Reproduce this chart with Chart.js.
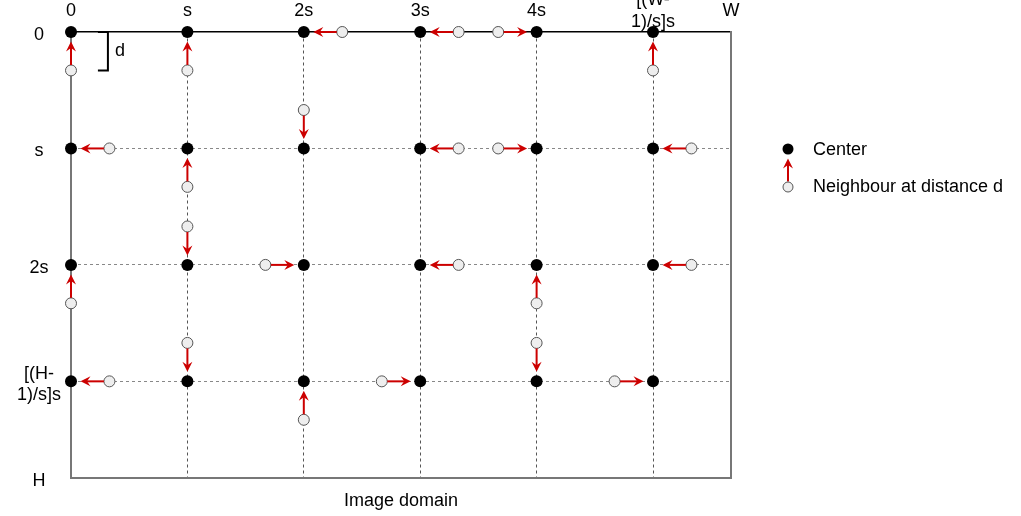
<!DOCTYPE html>
<html>
<head>
<meta charset="utf-8">
<script src="https://cdn.jsdelivr.net/npm/chart.js@4"></script>
<style>
  body { margin: 0; background: #fff; }
  #wrap { width: 1021px; height: 516px; }
</style>
</head>
<body>
<div id="wrap"><canvas id="grid"></canvas></div>
<script>
// grid in units of the step s, rows go down
const xMax = 5.67;   // W
const yMax = 3.83;   // H
const dist = 0.33;   // d

const xTickVals = [0, 1, 2, 3, 4, 5, 5.67];
const xTickLabels = ['0', 's', '2s', '3s', '4s', ['[(W-', '1)/s]s'], 'W'];
const yTickVals = [0, 1, 2, 3, 3.83];
const yTickLabels = ['0', 's', '2s', ['[(H-', '1)/s]s'], 'H'];

// centers, one per grid node
const centerX = [0, 1, 2, 3, 4, 5, 0, 1, 2, 3, 4, 5, 0, 1, 2, 3, 4, 5, 0, 1, 2, 3, 4, 5];
const centerY = [0, 0, 0, 0, 0, 0, 1, 1, 1, 1, 1, 1, 2, 2, 2, 2, 2, 2, 3, 3, 3, 3, 3, 3];

// the neighbour that belongs to each center (same order)
const neighbourX = [0, 1, 2.33, 3.33, 3.67, 5, 0.33, 1, 2, 3.33, 3.67, 5.33, 0, 1, 1.67, 3.33, 4, 5.33, 0.33, 1, 2, 2.67, 4, 4.67];
const neighbourY = [0.33, 0.33, 0, 0, 0, 0.33, 1, 1.33, 0.67, 1, 1, 1, 2.33, 1.67, 2, 2, 2.33, 2, 3, 2.67, 3.33, 3, 2.67, 3];

const FONT = 'Liberation Sans, Arial, Helvetica, sans-serif';
const FS = 18;
const RED = '#cc0000';

function arrow(ctx, x1, y1, x2, y2) {
  const dx = x2 - x1, dy = y2 - y1;
  const len = Math.hypot(dx, dy);
  const ux = dx / len, uy = dy / len;
  const sx = x1 + ux * 5.5, sy = y1 + uy * 5.5;
  const tx = x2 - ux * 9.5, ty = y2 - uy * 9.5;
  ctx.save();
  ctx.strokeStyle = RED;
  ctx.fillStyle = RED;
  ctx.lineWidth = 2;
  ctx.beginPath();
  ctx.moveTo(sx, sy);
  ctx.lineTo(tx - ux * 5, ty - uy * 5);
  ctx.stroke();
  // head
  ctx.beginPath();
  ctx.moveTo(tx, ty);
  ctx.lineTo(tx - ux * 10 - uy * 5, ty - uy * 10 + ux * 5);
  ctx.lineTo(tx - ux * 6.5, ty - uy * 6.5);
  ctx.lineTo(tx - ux * 10 + uy * 5, ty - uy * 10 - ux * 5);
  ctx.closePath();
  ctx.fill();
  ctx.restore();
}

const extras = {
  id: 'extras',
  afterDatasetsDraw(chart) {
    const ctx = chart.ctx;
    const xs = chart.scales.x, ys = chart.scales.y;
    for (let i = 0; i < centerX.length; i++) {
      arrow(ctx,
        xs.getPixelForValue(neighbourX[i]), ys.getPixelForValue(neighbourY[i]),
        xs.getPixelForValue(centerX[i]), ys.getPixelForValue(centerY[i]));
    }
    // bracket showing d
    const bx = xs.getPixelForValue(dist) - 1.5;
    const by0 = ys.getPixelForValue(0), by1 = ys.getPixelForValue(dist);
    ctx.save();
    ctx.strokeStyle = '#000';
    ctx.lineWidth = 2;
    ctx.beginPath();
    ctx.moveTo(bx - 10, by0);
    ctx.lineTo(bx, by0);
    ctx.lineTo(bx, by1);
    ctx.lineTo(bx - 10, by1);
    ctx.stroke();
    ctx.fillStyle = '#000';
    ctx.font = FS + 'px ' + FONT;
    ctx.textBaseline = 'middle';
    ctx.fillText('d', bx + 7, (by0 + by1) / 2);
    ctx.restore();
  },
  afterDraw(chart) {
    // legend
    const ctx = chart.ctx;
    const lx = chart.chartArea.right + 57;
    const ly = 149;
    ctx.save();
    ctx.fillStyle = '#000';
    ctx.beginPath();
    ctx.arc(lx, ly, 5.5, 0, Math.PI * 2);
    ctx.fill();
    arrow(ctx, lx, ly + 38, lx, ly);
    ctx.fillStyle = '#eee';
    ctx.strokeStyle = '#555';
    ctx.lineWidth = 1;
    ctx.beginPath();
    ctx.arc(lx, ly + 38, 5, 0, Math.PI * 2);
    ctx.fill();
    ctx.stroke();
    ctx.fillStyle = '#000';
    ctx.font = FS + 'px ' + FONT;
    ctx.textBaseline = 'middle';
    ctx.fillText('Center', lx + 25, ly + 1);
    ctx.fillText('Neighbour at distance d', lx + 25, ly + 38);
    ctx.restore();
  }
};

new Chart(document.getElementById('grid'), {
  type: 'scatter',
  data: {
    datasets: [
      {
        label: 'Center',
        data: centerX.map((x, i) => ({ x: x, y: centerY[i] })),
        pointRadius: 6,
        pointBackgroundColor: '#000',
        pointBorderColor: '#000',
        pointBorderWidth: 0,
        clip: false
      },
      {
        label: 'Neighbour at distance d',
        data: neighbourX.map((x, i) => ({ x: x, y: neighbourY[i] })),
        pointRadius: 5.5,
        pointBackgroundColor: '#eeeeee',
        pointBorderColor: '#555',
        pointBorderWidth: 1,
        clip: false
      }
    ]
  },
  options: {
    responsive: true,
    maintainAspectRatio: false,
    animation: false,
    layout: { padding: { left: 0, top: 0, right: 290, bottom: 0 } },
    plugins: {
      legend: { display: false },
      tooltip: { enabled: false }
    },
    scales: {
      x: {
        type: 'linear',
        position: 'top',
        min: 0,
        max: xMax,
        afterBuildTicks: s => { s.ticks = xTickVals.map(v => ({ value: v })); },
        afterFit: s => { s.height = 32; },
        ticks: {
          autoSkip: false,
          maxRotation: 0,
          crossAlign: 'center',
          padding: 10,
          color: '#000',
          font: { family: FONT, size: FS },
          callback: (v, i) => xTickLabels[i]
        },
        grid: {
          drawTicks: false,
          lineWidth: 1,
          color: c => (c.tick && c.tick.value > 0 && c.tick.value < xMax) ? '#555' : 'rgba(0,0,0,0)'
        },
        border: { color: '#000', width: 1.5, dash: [3, 3] }
      },
      y: {
        type: 'linear',
        position: 'left',
        reverse: true,
        min: 0,
        max: yMax,
        afterBuildTicks: s => { s.ticks = yTickVals.map(v => ({ value: v })); },
        afterFit: s => { s.width = 71; },
        ticks: {
          autoSkip: false,
          crossAlign: 'center',
          padding: 10,
          labelOffset: 3,
          color: '#000',
          font: { family: FONT, size: FS },
          callback: (v, i) => yTickLabels[i]
        },
        grid: {
          drawTicks: false,
          lineWidth: 1,
          color: c => (c.tick && c.tick.value > 0 && c.tick.value < yMax) ? '#888' : 'rgba(0,0,0,0)'
        },
        border: { color: '#777', width: 2, dash: [3, 3] }
      },
      x2: {
        type: 'linear',
        position: 'bottom',
        min: 0,
        max: xMax,
        afterFit: s => { s.height = 38; },
        ticks: { display: false },
        grid: { display: false },
        border: { color: '#777', width: 2 },
        title: {
          display: true,
          text: 'Image domain',
          color: '#000',
          font: { family: FONT, size: FS },
          padding: { top: 4, bottom: 4 }
        }
      },
      y2: {
        type: 'linear',
        position: 'right',
        reverse: true,
        min: 0,
        max: yMax,
        afterFit: s => { s.width = 0; },
        ticks: { display: false },
        grid: { display: false },
        border: { color: '#777', width: 2 }
      }
    }
  },
  plugins: [extras]
});
</script>
</body>
</html>
